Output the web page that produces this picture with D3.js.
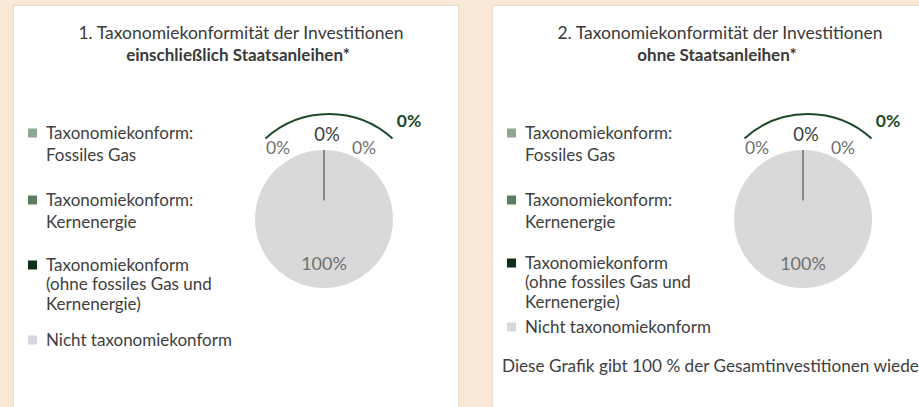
<!DOCTYPE html>
<html>
<head>
<meta charset="utf-8">
<script src="https://cdn.jsdelivr.net/npm/d3@7"></script>
<style>
  html, body { margin: 0; padding: 0; background: #fbe9d8; }
  svg { display: block; }
  text { font-family: Lato, "Open Sans", sans-serif; }
</style>
</head>
<body>
<svg id="chart" width="919" height="407"></svg>
<script>
// Portfolio breakdown by EU taxonomy alignment
const categories = [
  "Taxonomiekonform: Fossiles Gas",
  "Taxonomiekonform: Kernenergie",
  "Taxonomiekonform (ohne fossiles Gas und Kernenergie)",
  "Nicht taxonomiekonform"
];
const legendLines = [
  ["Taxonomiekonform:", "Fossiles Gas"],
  ["Taxonomiekonform:", "Kernenergie"],
  ["Taxonomiekonform", "(ohne fossiles Gas und", "Kernenergie)"],
  ["Nicht taxonomiekonform"]
];
const titlesLine1 = [
  "1. Taxonomiekonformität der Investitionen",
  "2. Taxonomiekonformität der Investitionen"
];
const titlesLine2 = [
  "einschließlich Staatsanleihen*",
  "ohne Staatsanleihen*"
];
const valuesInclSovereign = [0, 0, 0, 100];
const valuesExclSovereign = [0, 0, 0, 100];
const alignedTotals = [0, 0];
const footnotes = ["", "Diese Grafik gibt 100 % der Gesamtinvestitionen wieder."];

const colors = ["#8fa892", "#5d7d62", "#0d2f15", "#d9d9d9"];
const legendColors = ["#8fa892", "#5d7d62", "#0d2f15", "#d6d8e0"];

const svg = d3.select("#chart");

const panels = [
  { x: 13, y: 5, w: 445, values: valuesInclSovereign, legendTop: [133, 200, 265, 340], footY: null },
  { x: 492, y: 5, w: 440, values: valuesExclSovereign, legendTop: [133, 200, 263, 327], footY: 366 }
];

const pie = d3.pie().sort(null).value(d => d);
const radius = 69;
const arc = d3.arc().innerRadius(0).outerRadius(radius);
const seam = d3.arc().innerRadius(radius * 0.27).outerRadius(radius);
const fmt = v => d3.format(".0f")(v) + "%";

// label offsets for the stacked zero-value slices above the pie
const zeroLabelPos = [[-46, -71], [3, -84], [40, -71]];
const zeroLabelSize = [17.5, 18.5, 17.5];

panels.forEach((p, i) => {
  const g = svg.append("g").attr("transform", `translate(${p.x},${p.y})`);

  g.append("rect")
    .attr("x", 0.5).attr("y", 0.5)
    .attr("width", p.w).attr("height", 420)
    .attr("fill", "#ffffff")
    .attr("stroke", "#e6dfd7");

  const cxTitle = 228;
  g.append("text")
    .attr("x", cxTitle).attr("y", 34)
    .attr("text-anchor", "middle")
    .attr("font-size", 17.5).attr("fill", "#3a3a3a")
    .text(titlesLine1[i]);
  g.append("text")
    .attr("x", cxTitle - 3).attr("y", 56)
    .attr("text-anchor", "middle")
    .attr("font-size", 17).attr("font-weight", "bold").attr("fill", "#3a3a3a")
    .text(titlesLine2[i]);

  // legend
  const lg = g.append("g").attr("transform", "translate(15,0)");
  legendLines.forEach((lines, k) => {
    const y0 = p.legendTop[k] - p.y;
    lg.append("rect")
      .attr("x", 0).attr("y", y0 - 4.5)
      .attr("width", 9).attr("height", 9)
      .attr("fill", legendColors[k]);
    const step = lines.length === 3 ? 19.5 : 22;
    lines.forEach((t, j) => {
      lg.append("text")
        .attr("x", 18).attr("y", y0 + j * step)
        .attr("dy", "0.35em")
        .attr("font-size", 17).attr("fill", "#404040")
        .text(t);
    });
  });

  // pie
  const cx = 311, cy = 219 - p.y;
  const pg = g.append("g").attr("transform", `translate(${cx},${cy})`);
  const slices = pie(p.values);
  pg.selectAll("path.slice")
    .data(slices.filter(d => d.value > 0))
    .join("path")
    .attr("class", "slice")
    .attr("d", arc)
    .attr("fill", d => colors[d.index]);
  pg.selectAll("path.seam")
    .data(slices.filter(d => d.value === 0))
    .join("path")
    .attr("class", "seam")
    .attr("d", seam)
    .attr("fill", "none")
    .attr("stroke", "#3f5f45")
    .attr("stroke-opacity", 0.45)
    .attr("stroke-width", 0.6);

  // zero-value slice labels
  pg.selectAll("text.zero")
    .data(slices.filter(d => d.value === 0))
    .join("text")
    .attr("class", "zero")
    .attr("x", (d, k) => zeroLabelPos[k][0])
    .attr("y", (d, k) => zeroLabelPos[k][1])
    .attr("text-anchor", "middle").attr("dy", "0.35em")
    .attr("font-size", (d, k) => zeroLabelSize[k])
    .attr("fill", (d, k) => k === 1 ? "#3d3d3d" : "#707070")
    .text(d => fmt(d.value));

  // main slice label
  pg.selectAll("text.main")
    .data(slices.filter(d => d.value > 0))
    .join("text")
    .attr("class", "main")
    .attr("x", 0).attr("y", 45)
    .attr("text-anchor", "middle").attr("dy", "0.35em")
    .attr("font-size", 18).attr("fill", "#707070")
    .text(d => fmt(d.value));

  // bracket arc over the aligned share
  const R = 94.5, bx = 5, by = -10.5, a = Math.asin(63.5 / R);
  const path = d3.path();
  path.arc(bx, by, R, -Math.PI / 2 - a, -Math.PI / 2 + a);
  pg.append("path")
    .attr("d", path.toString())
    .attr("fill", "none")
    .attr("stroke", "#1d4a28")
    .attr("stroke-width", 2);

  pg.append("text")
    .attr("x", 85).attr("y", -98)
    .attr("text-anchor", "middle").attr("dy", "0.35em")
    .attr("font-size", 17.5).attr("font-weight", "bold")
    .attr("fill", "#1d4a28")
    .text(fmt(alignedTotals[i]));

  if (p.footY) {
    g.append("text")
      .attr("x", 10).attr("y", p.footY - p.y)
      .attr("dy", "0.35em")
      .attr("font-size", 17.2).attr("fill", "#404040")
      .text(footnotes[i]);
  }
});
</script>
</body>
</html>
